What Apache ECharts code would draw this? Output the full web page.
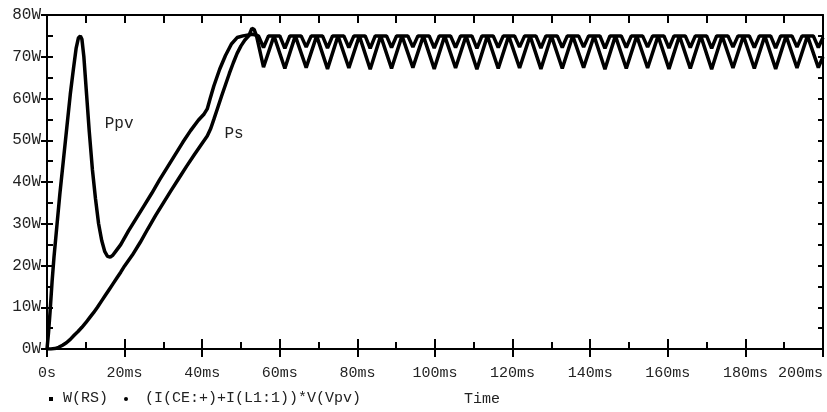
<!DOCTYPE html>
<html>
<head>
<meta charset="utf-8">
<script src="https://cdn.jsdelivr.net/npm/echarts@6/dist/echarts.min.js"></script>
<style>
  html, body { margin: 0; padding: 0; background: #fff; }
  #chart { width: 827px; height: 412px; }
</style>
</head>
<body>
<div id="chart"></div>
<script>
// tick labels
const xTickLabels = ['0s', '20ms', '40ms', '60ms', '80ms', '100ms', '120ms', '140ms', '160ms', '180ms', '200ms']
const yTickLabels = ['0W', '10W', '20W', '30W', '40W', '50W', '60W', '70W', '80W']

const ppvName = '(I(CE:+)+I(L1:1))*V(Vpv)'
const psName = 'W(RS)'

// Ppv: start-up peak, dip and ramp [ms, W]
const ppvStart = [
  [0, 0], [0.4, 4], [0.8, 9], [1.3, 16], [1.8, 22], [2.5, 29], [3.3, 37], [4.2, 45], [5.1, 53],
  [6.0, 61], [6.8, 67], [7.5, 72], [8.1, 74.5], [8.6, 75], [9.0, 74.2], [9.5, 70], [10.2, 61],
  [10.9, 52], [11.7, 43], [12.5, 36], [13.3, 30], [14.1, 26], [14.9, 23.3], [15.6, 22.2],
  [16.3, 22], [17.0, 22.5], [17.8, 23.5], [19, 25], [21, 28.3], [23, 31.3], [25, 34.3],
  [27, 37.3], [29, 40.5], [31, 43.5], [33, 46.5], [35, 49.5], [37, 52.3], [39, 54.8],
  [40.5, 56.3], [41.3, 57.5], [42, 59.8], [43, 63], [44.5, 67], [46, 70.3], [47.5, 73],
  [49, 74.6], [50.5, 75], [53, 75.4]
]

// Ppv: steady-state ripple
const ppvRipple = [
  [54.5, 75], [55.8, 72.2], [57.1, 75], [60.0, 75], [61.3, 72.0], [62.6, 75],
  [65.5, 75], [66.8, 72.3], [68.1, 75], [71.0, 75], [72.3, 72.1], [73.6, 75],
  [76.5, 75], [77.8, 72.2], [79.1, 75], [82.0, 75], [83.3, 72.0], [84.6, 75],
  [87.5, 75], [88.8, 72.2], [90.1, 75], [93.0, 75], [94.3, 72.3], [95.6, 75],
  [98.5, 75], [99.8, 72.1], [101.1, 75], [104.0, 75], [105.3, 72.2], [106.6, 75],
  [109.5, 75], [110.8, 72.0], [112.1, 75], [115.0, 75], [116.3, 72.2], [117.6, 75],
  [120.5, 75], [121.8, 72.3], [123.1, 75], [126.0, 75], [127.3, 72.1], [128.6, 75],
  [131.5, 75], [132.8, 72.2], [134.1, 75], [137.0, 75], [138.3, 72.3], [139.6, 75],
  [142.5, 75], [143.8, 72.0], [145.1, 75], [148.0, 75], [149.3, 72.2], [150.6, 75],
  [153.5, 75], [154.8, 72.3], [156.1, 75], [159.0, 75], [160.3, 72.1], [161.6, 75],
  [164.5, 75], [165.8, 72.2], [167.1, 75], [170.0, 75], [171.3, 72.0], [172.6, 75],
  [175.5, 75], [176.8, 72.3], [178.1, 75], [181.0, 75], [182.3, 72.2], [183.6, 75],
  [186.5, 75], [187.8, 72.1], [189.1, 75], [192.0, 75], [193.3, 72.3], [194.6, 75],
  [197.5, 75], [198.8, 72.2], [200, 74.6]
]

// Ps: slow rise [ms, W]
const psStart = [
  [0, 0], [1, 0], [2, 0.1], [3, 0.4], [4, 0.9], [5, 1.5], [6, 2.3], [7, 3.3], [8, 4.2],
  [9, 5.2], [10, 6.3], [11, 7.5], [12, 8.7], [13, 10], [14, 11.4], [15, 12.8], [16, 14.2],
  [17, 15.6], [18, 17], [19, 18.4], [20, 19.9], [22, 22.5], [24, 25.5], [26, 28.8], [28, 32],
  [30, 35], [32, 38], [34, 40.9], [36, 43.8], [38, 46.6], [40, 49.3], [41.3, 51], [42.2, 52.8],
  [43, 55], [44, 57.8], [45, 60.6], [46, 63.3], [47, 66], [48, 68.5], [49, 70.8], [50, 72.6],
  [51, 74], [52, 75], [52.8, 76.8], [53.4, 76.5], [54, 75]
]

// Ps: steady-state ripple
const psRipple = [
  [55.8, 67.5], [58.5, 75], [61.3, 67.2], [64.0, 75], [66.8, 67.4], [69.5, 75],
  [72.3, 67.1], [75.0, 75], [77.8, 67.3], [80.5, 75], [83.3, 67.0], [86.0, 75],
  [88.8, 67.2], [91.5, 75], [94.3, 67.4], [97.0, 75], [99.8, 67.1], [102.5, 75],
  [105.3, 67.3], [108.0, 75], [110.8, 67.0], [113.5, 75], [116.3, 67.2], [119.0, 75],
  [121.8, 67.3], [124.5, 75], [127.3, 67.1], [130.0, 75], [132.8, 67.2], [135.5, 75],
  [138.3, 67.4], [141.0, 75], [143.8, 67.0], [146.5, 75], [149.3, 67.2], [152.0, 75],
  [154.8, 67.3], [157.5, 75], [160.3, 67.1], [163.0, 75], [165.8, 67.2], [168.5, 75],
  [171.3, 67.0], [174.0, 75], [176.8, 67.3], [179.5, 75], [182.3, 67.2], [185.0, 75],
  [187.8, 67.1], [190.5, 75], [193.3, 67.3], [196.0, 75], [198.8, 67.4], [200, 70]
]

const font = 'Liberation Mono'
const black = '#000'
const textColor = '#222'

const chart = echarts.init(document.getElementById('chart'))

const hidden = { show: false }
const line2 = { lineStyle: { color: black, width: 2 } }

chart.setOption({
  animation: false,
  backgroundColor: '#fff',
  grid: { left: 47, right: 4, top: 15, bottom: 63 },
  xAxis: [
    {
      type: 'value', position: 'bottom', min: 0, max: 200, interval: 20,
      axisLine: { show: true, onZero: false, ...line2 },
      axisTick: { show: true, inside: true, length: 10, ...line2 },
      minorTick: { show: true, splitNumber: 2, length: 7, ...line2 },
      splitLine: hidden,
      axisLabel: {
        margin: 17, color: textColor, fontFamily: font, fontSize: 15,
        alignMaxLabel: 'right',
        formatter: (v, i) => xTickLabels[i]
      }
    },
    {
      // outer half of the major ticks
      type: 'value', position: 'bottom', min: 0, max: 200, interval: 20,
      axisLine: { show: false, onZero: false },
      axisTick: { show: true, inside: false, length: 8, ...line2 },
      splitLine: hidden, axisLabel: hidden
    },
    {
      type: 'value', position: 'top', min: 0, max: 200, interval: 10,
      axisLine: { show: true, onZero: false, ...line2 },
      axisTick: { show: true, inside: true, length: 8, ...line2 },
      splitLine: hidden, axisLabel: hidden
    }
  ],
  yAxis: [
    {
      type: 'value', position: 'left', min: 0, max: 80, interval: 10,
      axisLine: { show: true, onZero: false, ...line2 },
      axisTick: { show: true, inside: false, length: 6, ...line2 },
      splitLine: hidden,
      axisLabel: {
        margin: 6, color: textColor, fontFamily: font, fontSize: 16,
        formatter: (v, i) => yTickLabels[i]
      }
    },
    {
      type: 'value', position: 'left', min: 0, max: 80, interval: 5,
      axisLine: { show: false, onZero: false },
      axisTick: { show: true, inside: true, length: 6, ...line2 },
      splitLine: hidden, axisLabel: hidden
    },
    {
      type: 'value', position: 'right', min: 0, max: 80, interval: 5,
      axisLine: { show: true, onZero: false, ...line2 },
      axisTick: { show: true, inside: true, length: 5, ...line2 },
      splitLine: hidden, axisLabel: hidden
    }
  ],
  series: [
    {
      name: ppvName,
      type: 'line',
      showSymbol: false,
      lineStyle: { color: black, width: 3.5 },
      data: ppvStart.concat(ppvRipple),
      markPoint: {
        symbol: 'circle', symbolSize: 1,
        itemStyle: { color: 'transparent' },
        label: { show: true, position: 'inside', color: textColor, fontFamily: font, fontSize: 16, formatter: '{b}' },
        data: [{ name: 'Ppv', coord: [18.6, 54] }]
      }
    },
    {
      name: psName,
      type: 'line',
      showSymbol: false,
      lineStyle: { color: black, width: 3.5 },
      data: psStart.concat(psRipple),
      markPoint: {
        symbol: 'circle', symbolSize: 1,
        itemStyle: { color: 'transparent' },
        label: { show: true, position: 'inside', color: textColor, fontFamily: font, fontSize: 16, formatter: '{b}' },
        data: [{ name: 'Ps', coord: [48.2, 51.5] }]
      }
    }
  ],
  graphic: [
    { type: 'rect', left: 49, top: 397, shape: { width: 4, height: 4 }, style: { fill: black } },
    { type: 'text', left: 63, top: 391, style: { text: psName, fill: textColor, font: '15px "Liberation Mono"' } },
    { type: 'circle', left: 124, top: 397, shape: { r: 2 }, style: { fill: black } },
    { type: 'text', left: 145, top: 391, style: { text: ppvName, fill: textColor, font: '15px "Liberation Mono"' } },
    { type: 'text', left: 464, top: 392, style: { text: 'Time', fill: textColor, font: '15px "Liberation Mono"' } }
  ]
})
</script>
</body>
</html>
